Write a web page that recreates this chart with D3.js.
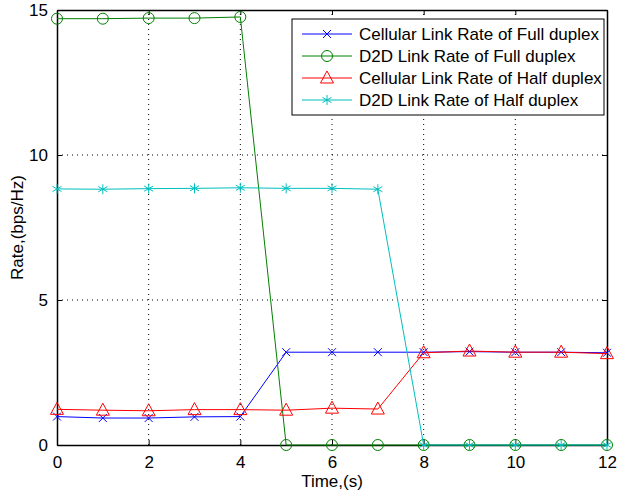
<!DOCTYPE html>
<html>
<head>
<meta charset="utf-8">
<script src="https://cdn.jsdelivr.net/npm/d3@7"></script>
<style>
  body { margin: 0; background: #fff; }
  svg { font-family: "Liberation Sans", Arial, sans-serif; }
</style>
</head>
<body>
<div id="chart"></div>
<script>
const times = [0, 1, 2, 3, 4, 5, 6, 7, 8, 9, 10, 11, 12]
const cellularFull = [0.98, 0.93, 0.93, 0.97, 0.98, 3.2, 3.2, 3.2, 3.2, 3.22, 3.2, 3.2, 3.18]
const d2dFull = [14.7, 14.7, 14.72, 14.72, 14.76, 0, 0, 0, 0, 0, 0, 0, 0]
const cellularHalf = [1.23, 1.2, 1.18, 1.22, 1.22, 1.2, 1.27, 1.24, 3.18, 3.24, 3.2, 3.2, 3.15]
const d2dHalf = [8.83, 8.82, 8.84, 8.85, 8.87, 8.85, 8.85, 8.82, 0, 0, 0, 0, 0]
const xTicks = [0, 2, 4, 6, 8, 10, 12]
const yTicks = [0, 5, 10, 15]

const series = [
    {name: 'Cellular Link Rate of Full duplex', values: cellularFull, color: '#0000ff', marker: 'x'},
    {name: 'D2D Link Rate of Full duplex', values: d2dFull, color: '#008000', marker: 'o'},
    {name: 'Cellular Link Rate of Half duplex', values: cellularHalf, color: '#ff0000', marker: '^'},
    {name: 'D2D Link Rate of Half duplex', values: d2dHalf, color: '#00bfbf', marker: '*'}
]

const width = 617, height = 491
const margin = {left: 57, right: 10, top: 10, bottom: 46}
const fontSize = 17

const svg = d3.select('#chart').append('svg')
    .attr('width', width)
    .attr('height', height)

const x = d3.scaleLinear().domain([0, 12]).range([margin.left, width - margin.right])
const y = d3.scaleLinear().domain([0, 15]).range([height - margin.bottom, margin.top])

// grid
svg.append('g').selectAll('line')
    .data(xTicks.slice(1, -1))
    .enter().append('line')
    .attr('x1', d => x(d)).attr('x2', d => x(d))
    .attr('y1', y(0)).attr('y2', y(15))
    .attr('stroke', '#000').attr('stroke-width', 1)
    .attr('stroke-dasharray', '1,4')
svg.append('g').selectAll('line')
    .data(yTicks.slice(1, -1))
    .enter().append('line')
    .attr('x1', x(0)).attr('x2', x(12))
    .attr('y1', d => y(d)).attr('y2', d => y(d))
    .attr('stroke', '#000').attr('stroke-width', 1)
    .attr('stroke-dasharray', '1,4')

// axes (ticks inward, box)
const tickLen = 5
const axBottom = svg.append('g').attr('transform', `translate(0,${y(0)})`)
    .call(d3.axisBottom(x).tickValues(xTicks).tickSizeInner(-tickLen).tickSizeOuter(0).tickPadding(11))
const axTop = svg.append('g').attr('transform', `translate(0,${y(15)})`)
    .call(d3.axisTop(x).tickValues(xTicks).tickSizeInner(-tickLen).tickSizeOuter(0).tickFormat(''))
const axLeft = svg.append('g').attr('transform', `translate(${x(0)},0)`)
    .call(d3.axisLeft(y).tickValues(yTicks).tickSizeInner(-tickLen).tickSizeOuter(0).tickPadding(9))
const axRight = svg.append('g').attr('transform', `translate(${x(12)},0)`)
    .call(d3.axisRight(y).tickValues(yTicks).tickSizeInner(-tickLen).tickSizeOuter(0).tickFormat(''))

;[axBottom, axTop, axLeft, axRight].forEach(g => {
    g.selectAll('.domain').attr('stroke', '#000').attr('stroke-width', 1.5)
    g.selectAll('.tick line').attr('stroke', '#000')
    g.selectAll('.tick text').attr('font-size', fontSize).attr('fill', '#000')
        .attr('font-family', '"Liberation Sans", Arial, sans-serif')
})

// axis labels
svg.append('text')
    .attr('x', (x(0) + x(12)) / 2)
    .attr('y', 487)
    .attr('text-anchor', 'middle')
    .attr('font-size', fontSize)
    .text('Time,(s)')
svg.append('text')
    .attr('transform', `translate(23,${(y(0) + y(15)) / 2}) rotate(-90)`)
    .attr('text-anchor', 'middle')
    .attr('font-size', fontSize)
    .text('Rate,(bps/Hz)')

// marker drawing
const drawMarker = (g, type, color) => {
    if (type === 'x') {
        g.append('path').attr('d', 'M-4,-4L4,4M-4,4L4,-4')
            .attr('stroke', color).attr('fill', 'none').attr('stroke-width', 1)
    } else if (type === 'o') {
        g.append('circle').attr('r', 5.5)
            .attr('stroke', color).attr('fill', 'none').attr('stroke-width', 1)
    } else if (type === '^') {
        g.append('path').attr('d', 'M0,-7L6.5,5L-6.5,5Z')
            .attr('stroke', color).attr('fill', 'none').attr('stroke-width', 1)
    } else if (type === '*') {
        g.append('path').attr('d', 'M0,-5L0,5M-4.5,-2.6L4.5,2.6M-4.5,2.6L4.5,-2.6')
            .attr('stroke', color).attr('fill', 'none').attr('stroke-width', 1)
    }
}

const line = d3.line().x((d, i) => x(times[i])).y(d => y(d))

series.forEach(s => {
    svg.append('path')
        .datum(s.values)
        .attr('d', line)
        .attr('fill', 'none')
        .attr('stroke', s.color)
        .attr('stroke-width', 1)
    svg.append('g').selectAll('g')
        .data(s.values)
        .enter().append('g')
        .attr('transform', (d, i) => `translate(${x(times[i])},${y(d)})`)
        .each(function() { drawMarker(d3.select(this), s.marker, s.color) })
})

// legend
const legend = svg.append('g')
legend.append('rect')
    .attr('x', 292).attr('y', 19)
    .attr('width', 312).attr('height', 96)
    .attr('fill', '#fff').attr('stroke', '#000').attr('stroke-width', 1)

series.forEach((s, i) => {
    const ly = 34 + i * 22
    legend.append('line')
        .attr('x1', 302).attr('x2', 352)
        .attr('y1', ly).attr('y2', ly)
        .attr('stroke', s.color).attr('stroke-width', 1)
    drawMarker(legend.append('g').attr('transform', `translate(327,${ly})`), s.marker, s.color)
    legend.append('text')
        .attr('x', 359).attr('y', ly + 6)
        .attr('font-size', fontSize)
        .text(s.name)
})
</script>
</body>
</html>
